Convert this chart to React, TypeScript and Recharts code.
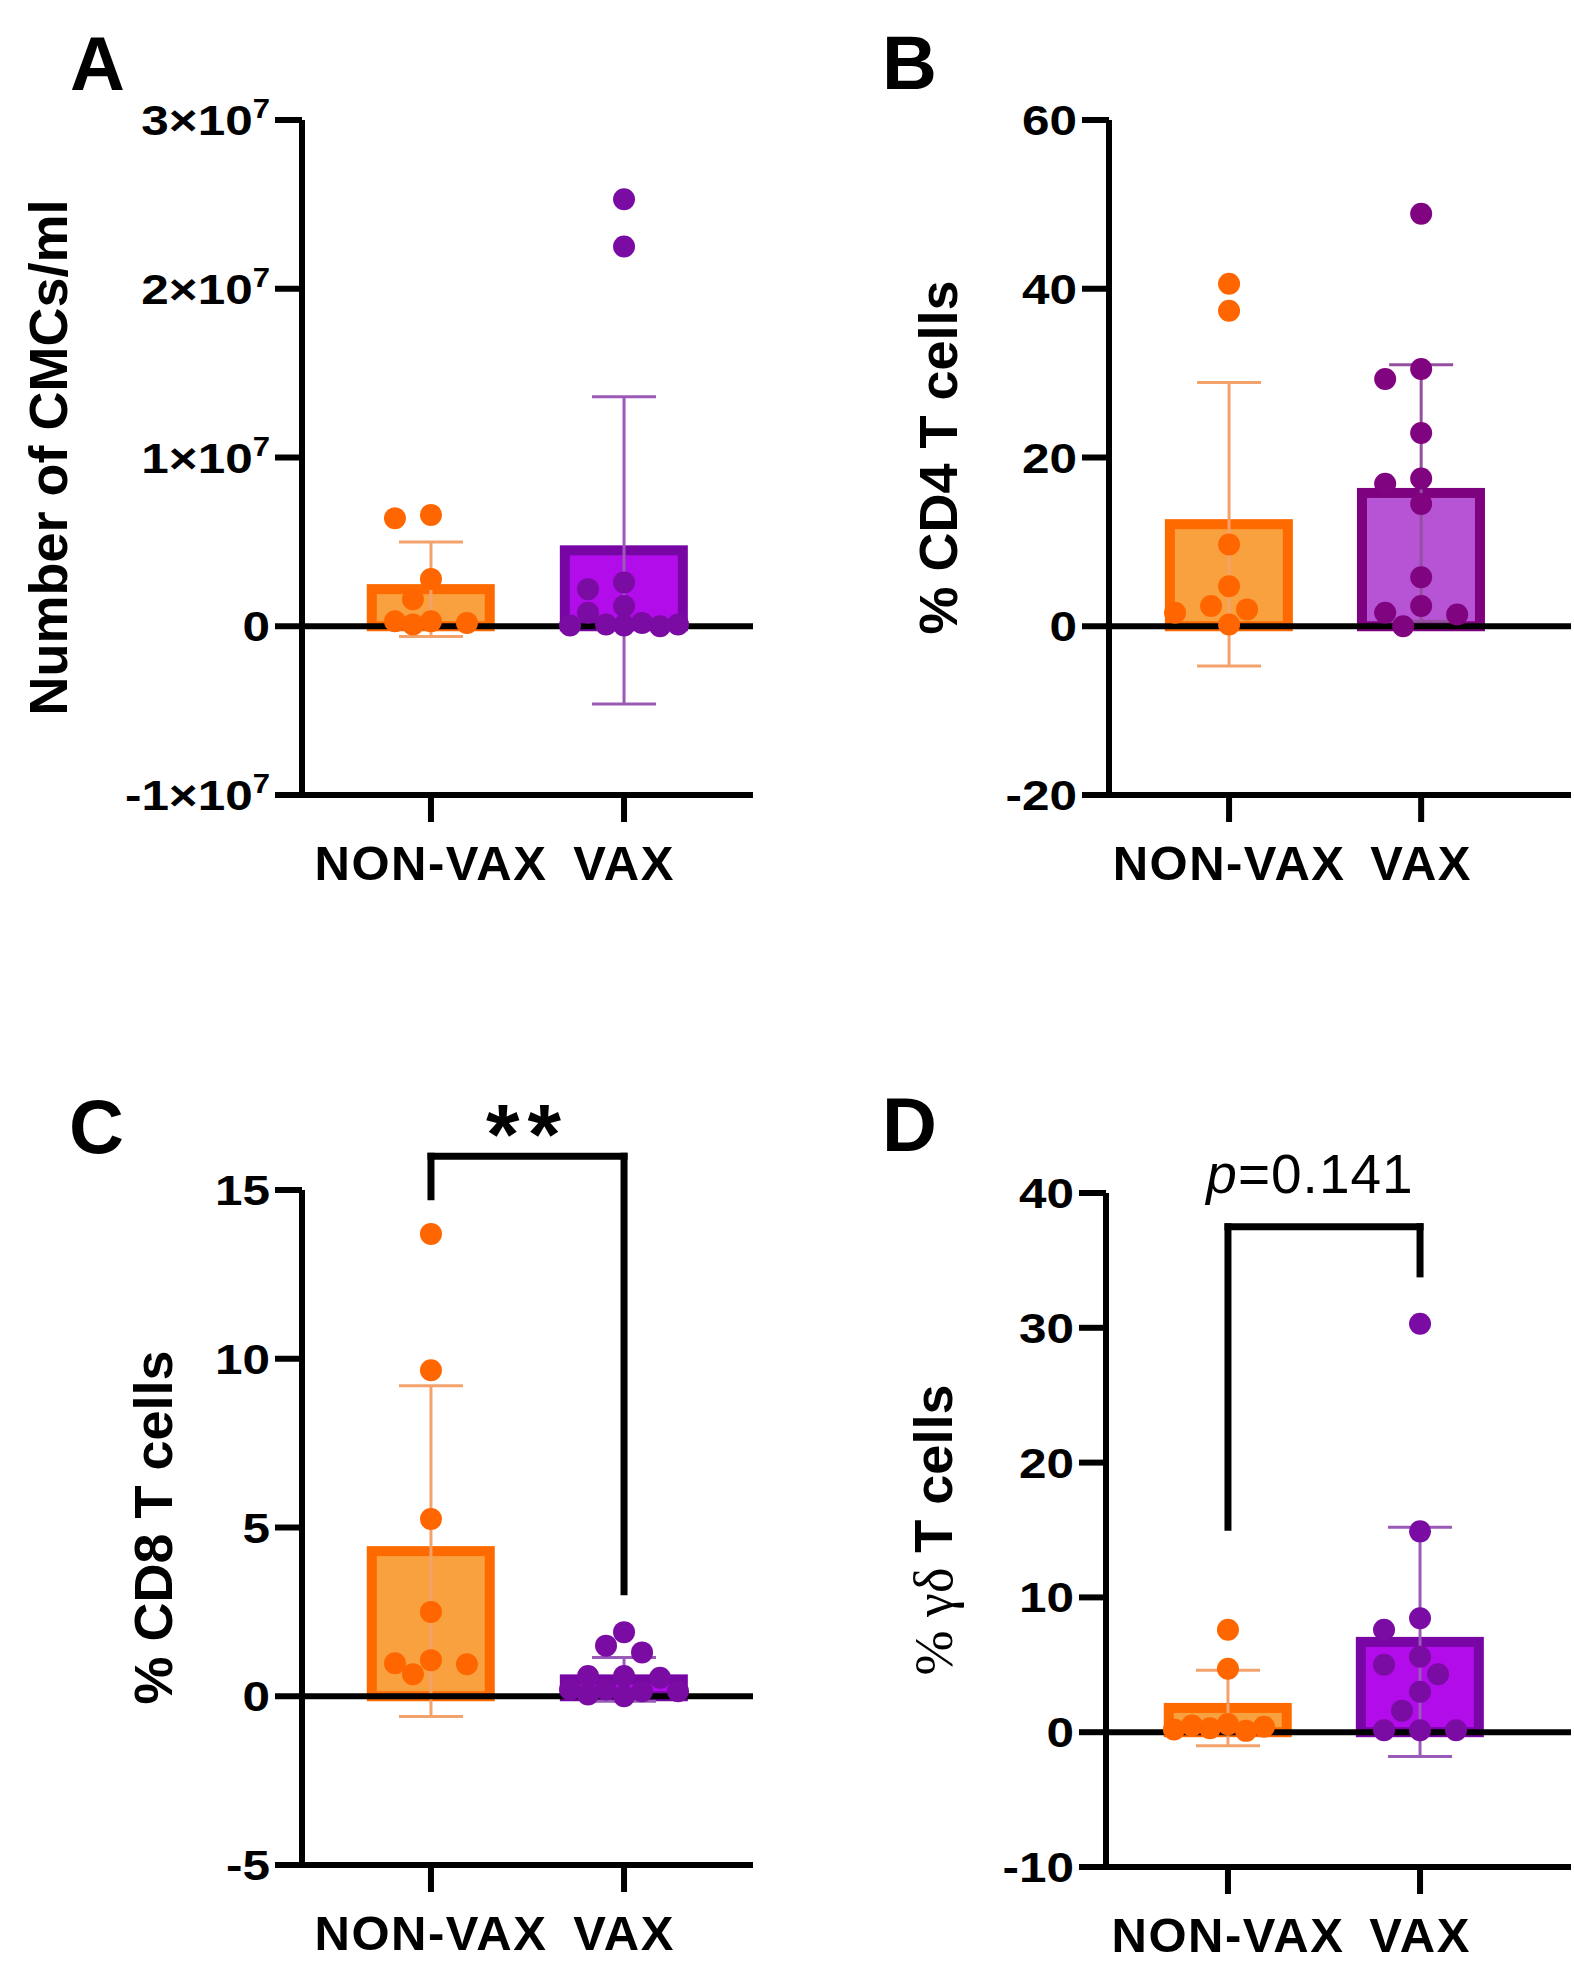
import React from "react";
import {
  ComposedChart,
  Bar,
  Scatter,
  ErrorBar,
  XAxis,
  YAxis,
  ReferenceLine,
  ReferenceDot,
} from "recharts";

const GROUPS = ["NON-VAX", "VAX"];

// A: number of CMCs per ml
const A_NONVAX = [6.4e6, 6.6e6, 2.8e6, 1.6e6, 0.2e6, 0.3e6, 0.3e6, 0.1e6];
const A_VAX = [25.3e6, 22.5e6, 2.6e6, 2.2e6, 1.2e6, 0.8e6, 0.2e6, 0.1e6, 0.1e6, 0.05e6, 0.05e6, 0];
const A_MEAN = [2.2e6, 4.5e6];
const A_SD = [2.8e6, 9.1e6];
const A_TICKS = [-1e7, 0, 1e7, 2e7, 3e7];

// B: % CD4 T cells
const B_NONVAX = [40.6, 37.4, 9.7, 4.75, 2.4, 1.6, 2.0, 0.2];
const B_VAX = [48.9, 30.5, 29.3, 22.9, 16.9, 17.5, 14.5, 5.8, 2.4, 1.4, 1.6, 0];
const B_MEAN = [12.1, 15.8];
const B_SD = [16.8, 15.2];
const B_TICKS = [-20, 0, 20, 40, 60];

// C: % CD8 T cells
const C_NONVAX = [13.7, 9.66, 5.25, 2.5, 1.07, 0.95, 0.65, 0.98];
const C_VAX = [1.9, 1.5, 1.3, 0.6, 0.55, 0.6, 0.2, 0.15, 0.05, 0.2, 0.15, 0];
const C_MEAN = [4.3, 0.5];
const C_SD = [4.9, 0.65];
const C_TICKS = [-5, 0, 5, 10, 15];

// D: % gamma-delta T cells
const D_NONVAX = [7.6, 4.7, 0.6, 0.4, 0.2, 0.5, 0.3, 0.1];
const D_VAX = [30.3, 14.9, 8.46, 7.6, 5.6, 5.0, 4.3, 3.0, 1.6, 0.15, 0.15, 0.15];
const D_MEAN = [1.8, 6.7];
const D_SD = [2.8, 8.5];
const D_TICKS = [-10, 0, 10, 20, 30, 40];

const FONT = "'Liberation Sans', Arial, Helvetica, sans-serif";
const SERIF = "'Liberation Serif', 'DejaVu Serif', serif";
const W = 787;
const H = 985;
const DOT_R = 11;
const BAR_W = 118;
const STRETCH = 1.15; // the figure's lettering is a little wide
const AXIS = { stroke: "#000", strokeWidth: 6 };

type Palette = { dot: string; fill: string; border: string; err: string };
const ORANGE: Palette = { dot: "#FF6600", fill: "#F9A03F", border: "#FF6A00", err: "#F3A26C" };
const PURPLE: Palette = { dot: "#7A0CA4", fill: "#B10CE9", border: "#7806A5", err: "#9A5AB8" };
const PURPLE_B: Palette = { dot: "#80047F", fill: "#B654D5", border: "#7E027F", err: "#94509F" };

type Bracket = { top: number; leftEnd: number; rightEnd: number; labelY: number; label: "stars" | "p" };

type PanelCfg = {
  letter: string;
  title: React.ReactNode;
  titleX: number;
  left: number;
  top: number;
  plot: { left: number; top: number; right: number; bottom: number };
  xDomain: [number, number];
  yDomain: [number, number];
  yTicks: number[];
  values: number[][];
  means: number[];
  sds: number[];
  palettes: Palette[];
  sci?: boolean;
  bracket?: Bracket;
};

// simple beeswarm: spread points sideways in lanes until they stop overlapping
function swarm(values: number[], center: number, yPx: number, xPx: number) {
  const step = 18;
  const lanes = [0, -1, 1, -2, 2, -3, 3];
  const placed: { dx: number; dy: number }[] = [];
  const order = values.map((_, i) => i).sort((a, b) => values[b] - values[a]);
  const out: { x: number; y: number }[] = new Array(values.length);
  for (const i of order) {
    const dy = values[i] * yPx;
    let best = 0;
    let bestGap = -1;
    for (const k of lanes) {
      const dx = k * step;
      const gap = placed.reduce((m, p) => Math.min(m, Math.hypot(p.dx - dx, p.dy - dy)), Infinity);
      if (gap >= 2 * DOT_R) {
        best = dx;
        break;
      }
      if (gap > bestGap) {
        best = dx;
        bestGap = gap;
      }
    }
    placed.push({ dx: best, dy });
    out[i] = { x: center + best / xPx, y: values[i] };
  }
  return out;
}

function XTick(props: any) {
  const { x, y, payload } = props;
  return (
    <text x={x} y={y} dy={50} textAnchor="middle" fontFamily={FONT} fontWeight={700} fontSize={49} letterSpacing={1.5} fill="#000">
      {GROUPS[payload.value - 1]}
    </text>
  );
}

function YTick(props: any) {
  const { x, y, payload, sci } = props;
  const v = payload.value;
  const m = v / 1e7;
  return (
    <g transform={`translate(${x} ${y}) scale(${STRETCH} 1)`}>
      <text x={0} y={0} dy={15} textAnchor="end" fontFamily={FONT} fontWeight={700} fontSize={43} fill="#000">
        {!sci || v === 0 ? (
          String(v)
        ) : (
          <>
            <tspan>{`${m < 0 ? "-" : ""}${Math.abs(m)}×10`}</tspan>
            <tspan dy={-17} fontSize={27}>7</tspan>
          </>
        )}
      </text>
    </g>
  );
}

function YTitle(props: any) {
  const { viewBox, title, bx } = props;
  const cy = viewBox.y + viewBox.height / 2;
  const x = viewBox.x + bx;
  return (
    <text x={x} y={cy} transform={`rotate(-90 ${x} ${cy})`} textAnchor="middle" fontFamily={FONT} fontWeight={700} fontSize={54} fill="#000">
      {title}
    </text>
  );
}

function Panel({ cfg }: { cfg: PanelCfg }) {
  const { plot, xDomain, yDomain, palettes: pals, bracket } = cfg;
  const yPx = (plot.bottom - plot.top) / (yDomain[1] - yDomain[0]);
  const xPx = (plot.right - plot.left) / (xDomain[1] - xDomain[0]);
  const bars = GROUPS.map((_, i) => ({ x: i + 1, mean: cfg.means[i] }));
  const errs = GROUPS.map((_, i) => [{ x: i + 1, y: cfg.means[i], err: cfg.sds[i] }]);
  const pts = cfg.values.map((vals, i) => swarm(vals, i + 1, yPx, xPx));

  const bracketEls = bracket
    ? [
        [{ x: 1, y: bracket.top }, { x: 2, y: bracket.top }],
        [{ x: 1, y: bracket.top }, { x: 1, y: bracket.leftEnd }],
        [{ x: 2, y: bracket.top }, { x: 2, y: bracket.rightEnd }],
      ].map((seg, i) => (
        <ReferenceLine key={`b${i}`} segment={seg} ifOverflow="visible" stroke="#000" strokeWidth={7} strokeLinecap="square" />
      ))
    : [];

  // bar drawn at a fixed width around the category centre, thick outline
  const barShape = (p: any) => {
    const i = p.payload.x - 1;
    const cx = p.x + p.width / 2;
    return (
      <rect
        x={cx - BAR_W / 2}
        y={p.y}
        width={BAR_W}
        height={Math.max(p.height, 0)}
        fill={pals[i].fill}
        stroke={pals[i].border}
        strokeWidth={10}
      />
    );
  };

  return (
    <div style={{ position: "absolute", left: cfg.left, top: cfg.top, width: W, height: H }}>
      <ComposedChart
        width={W}
        height={H}
        data={bars}
        margin={{ top: plot.top, right: W - plot.right, bottom: 0, left: 0 }}
      >
        <XAxis
          type="number"
          dataKey="x"
          domain={xDomain}
          ticks={[1, 2]}
          interval={0}
          allowDataOverflow
          height={H - plot.bottom}
          axisLine={AXIS}
          tickLine={AXIS}
          tickSize={27}
          tickMargin={8}
          tick={<XTick />}
        />
        <YAxis
          type="number"
          domain={yDomain}
          ticks={cfg.yTicks}
          interval={0}
          allowDataOverflow
          width={plot.left}
          axisLine={AXIS}
          tickLine={AXIS}
          tickSize={27}
          tickMargin={5}
          tick={<YTick sci={cfg.sci} />}
          label={<YTitle title={cfg.title} bx={cfg.titleX} />}
        />
        <Bar dataKey="mean" isAnimationActive={false} shape={barShape} />
        {errs.map((d, i) => (
          <Scatter key={`e${i}`} data={d} dataKey="y" shape={() => <g />} isAnimationActive={false}>
            <ErrorBar dataKey="err" direction="y" width={32} stroke={pals[i].err} strokeWidth={3} isAnimationActive={false} />
          </Scatter>
        ))}
        {pts.map((d, i) => (
          <Scatter
            key={`p${i}`}
            data={d}
            dataKey="y"
            isAnimationActive={false}
            shape={(p: any) => <circle cx={p.cx} cy={p.cy} r={DOT_R} fill={pals[i].dot} />}
          />
        ))}
        <ReferenceLine y={0} stroke="#000" strokeWidth={6} />
        {bracketEls}
        {bracket && (
          <ReferenceDot
            x={1.5}
            y={bracket.labelY}
            r={0}
            ifOverflow="visible"
            shape={(p: any) =>
              bracket.label === "stars" ? (
                <text x={p.cx} y={p.cy} dy={8} textAnchor="middle" fontFamily={FONT} fontWeight={700} fontSize={86} letterSpacing={8} fill="#000">
                  **
                </text>
              ) : (
                <text x={p.cx} y={p.cy} dx={-14} textAnchor="middle" fontFamily={FONT} fontSize={55} letterSpacing={1} fill="#000">
                  <tspan fontStyle="italic">p</tspan>=0.141
                </text>
              )
            }
          />
        )}
      </ComposedChart>
    </div>
  );
}

const PANELS: PanelCfg[] = [
  {
    letter: "A",
    title: "Number of CMCs/ml",
    titleX: 67,
    left: 0,
    top: 0,
    plot: { left: 302, top: 120, right: 753, bottom: 795 },
    xDomain: [0.332, 2.668],
    yDomain: [-1e7, 3e7],
    yTicks: A_TICKS,
    values: [A_NONVAX, A_VAX],
    means: A_MEAN,
    sds: A_SD,
    palettes: [ORANGE, PURPLE],
    sci: true,
  },
  {
    letter: "B",
    title: "% CD4 T cells",
    titleX: 170,
    left: 787,
    top: 0,
    plot: { left: 322, top: 120, right: 784, bottom: 795 },
    xDomain: [0.375, 2.78],
    yDomain: [-20, 60],
    yTicks: B_TICKS,
    values: [B_NONVAX, B_VAX],
    means: B_MEAN,
    sds: B_SD,
    palettes: [ORANGE, PURPLE_B],
  },
  {
    letter: "C",
    title: "% CD8 T cells",
    titleX: 172,
    left: 0,
    top: 985,
    plot: { left: 302, top: 205, right: 753, bottom: 880 },
    xDomain: [0.332, 2.668],
    yDomain: [-5, 15],
    yTicks: C_TICKS,
    values: [C_NONVAX, C_VAX],
    means: C_MEAN,
    sds: C_SD,
    palettes: [ORANGE, PURPLE],
    bracket: { top: 16, leftEnd: 14.8, rightEnd: 3.1, labelY: 16, label: "stars" },
  },
  {
    letter: "D",
    title: (
      <>
        <tspan fontFamily={SERIF} fontWeight={400}>% γδ</tspan>
        <tspan> T cells</tspan>
      </>
    ),
    titleX: 165,
    left: 787,
    top: 985,
    plot: { left: 319, top: 208, right: 784, bottom: 882 },
    xDomain: [0.365, 2.786],
    yDomain: [-10, 40],
    yTicks: D_TICKS,
    values: [D_NONVAX, D_VAX],
    means: D_MEAN,
    sds: D_SD,
    palettes: [ORANGE, PURPLE],
    bracket: { top: 37.5, leftEnd: 15.2, rightEnd: 34.0, labelY: 40, label: "p" },
  },
];

const LETTER_POS = [
  { x: 70, y: 90 },
  { x: 882, y: 89 },
  { x: 69, y: 1153 },
  { x: 882, y: 1151 },
];

export default function App() {
  return (
    <div style={{ position: "absolute", left: 0, top: 0, width: 1574, height: 1970, background: "#fff" }}>
      {PANELS.map((p) => (
        <Panel key={p.letter} cfg={p} />
      ))}
      <svg width={1574} height={1970} style={{ position: "absolute", left: 0, top: 0, pointerEvents: "none" }}>
        {PANELS.map((p, i) => (
          <text key={p.letter} x={LETTER_POS[i].x} y={LETTER_POS[i].y} fontFamily={FONT} fontWeight={700} fontSize={76} fill="#000">
            {p.letter}
          </text>
        ))}
      </svg>
    </div>
  );
}
